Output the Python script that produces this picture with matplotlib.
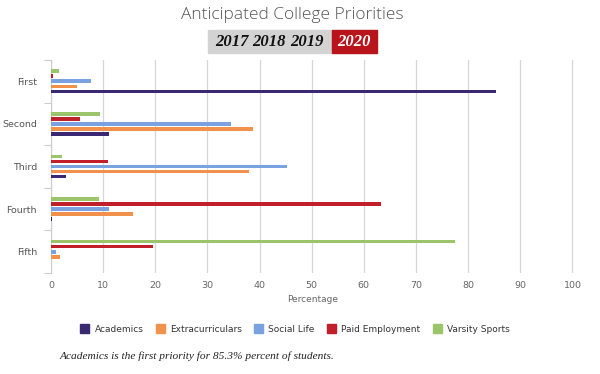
import numpy as np
import matplotlib
matplotlib.use("Agg")
import matplotlib.pyplot as plt
from matplotlib.patches import Rectangle, Patch

# data (percent of students)
categories = ["First", "Second", "Third", "Fourth", "Fifth"]
series = ["Academics", "Extracurriculars", "Social Life", "Paid Employment", "Varsity Sports"]
academics = [85.3, 11.1, 2.9, 0.2, 0.0]
extracurriculars = [4.9, 38.8, 38.0, 15.8, 1.8]
social_life = [7.6, 34.5, 45.3, 11.2, 0.9]
paid_employment = [0.3, 5.5, 11.0, 63.2, 19.6]
varsity_sports = [1.5, 9.4, 2.1, 9.2, 77.4]
years = ["2017", "2018", "2019", "2020"]
x_ticks = [0, 10, 20, 30, 40, 50, 60, 70, 80, 90, 100]

colors = ["#3b2872", "#f0924b", "#7aa2e0", "#c1202b", "#9cc56b"]
values = [academics, extracurriculars, social_life, paid_employment, varsity_sports]

fig = plt.figure(figsize=(6, 3.74), dpi=100)
ax = fig.add_axes([51 / 600, 1 - 273 / 374, (574 - 51) / 600, (273 - 60) / 374])

y = np.arange(len(categories))
h = 0.085
step = 0.118
# academics at the bottom of each group, varsity on top
offsets = [2 * step, step, 0, -step, -2 * step]
for vals, col, off, name in zip(values, colors, offsets, series):
    ax.barh(y + off, vals, height=h, color=col, label=name, zorder=3)

ax.set_xlim(0, 100.3)
ax.set_ylim(len(categories) - 0.5, -0.5)
ax.set_xticks(x_ticks)
ax.set_yticks(y)
ax.set_yticklabels(categories)
ax.set_yticks(np.arange(len(categories) + 1) - 0.5, minor=True)
ax.tick_params(axis="y", which="major", length=0, pad=10, labelsize=6.8, labelcolor="#555555")
ax.tick_params(axis="y", which="minor", length=5, color="#cccccc", width=0.8)
ax.tick_params(axis="x", length=0, pad=6, labelsize=6.8, labelcolor="#666666")
ax.grid(axis="x", color="#d6d6d6", linewidth=0.9, zorder=0)
for s in ["top", "right", "bottom"]:
    ax.spines[s].set_visible(False)
ax.spines["left"].set_color("#cccccc")
ax.set_xlabel("Percentage", fontsize=6.5, color="#666666", labelpad=3)

# title and year selector
fig.text(292 / 600, 1 - 15 / 374, "Anticipated College Priorities", ha="center", va="center",
         fontsize=12.5, color="#555555", family="Open Sans", fontweight="light")
fig.patches.append(Rectangle((208 / 600, 1 - 53 / 374), 124 / 600, 23 / 374,
                             transform=fig.transFigure, color="#d3d3d3", zorder=1))
fig.patches.append(Rectangle((332 / 600, 1 - 53 / 374), 45 / 600, 23 / 374,
                             transform=fig.transFigure, color="#b8141c", zorder=1))
year_x = [232, 269, 307, 354]
for yr, xx in zip(years, year_x):
    fig.text(xx / 600, 1 - 42 / 374, yr, ha="center", va="center", fontsize=12,
             style="italic", fontweight="bold", family="Liberation Serif",
             color="white" if yr == "2020" else "#111111")

handles = [Patch(color=c, label=n) for c, n in zip(colors, series)]
fig.legend(handles=handles, loc="center", bbox_to_anchor=(295 / 600, 1 - 329 / 374), ncol=5,
           frameon=False, fontsize=6.5, handlelength=1.0, handleheight=1.0, columnspacing=1.35,
           handletextpad=0.6, labelcolor="#333333")

fig.text(60 / 600, 1 - 356 / 374, "Academics is the first priority for 85.3% percent of students.",
         ha="left", va="center", fontsize=8.2, style="italic", family="Liberation Serif",
         color="#222222")

fig.savefig("out.png", dpi=100)
